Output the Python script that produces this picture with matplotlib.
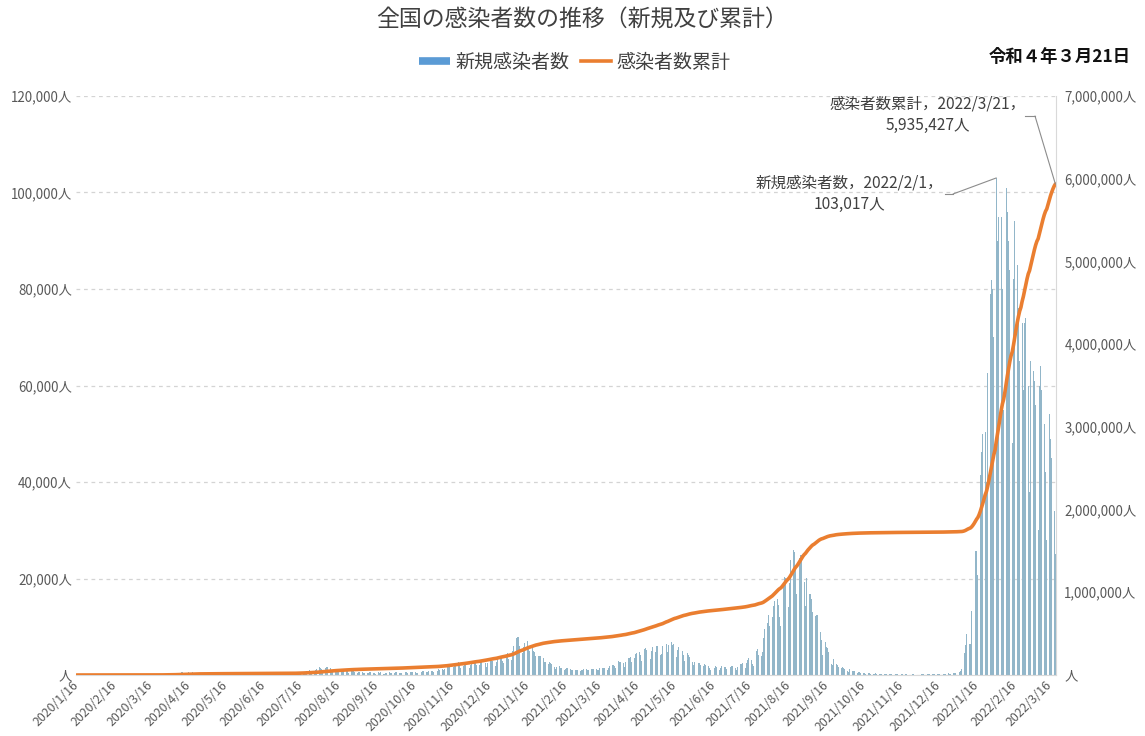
import numpy as np
import pandas as pd
import matplotlib
matplotlib.use('Agg')
import matplotlib.pyplot as plt
from matplotlib.lines import Line2D

plt.rcParams['font.family'] = ['Noto Sans CJK JP', 'DejaVu Sans']

# ---------------- data (daily new cases) ----------------
start_date = '2020-01-16'
new_2020_01 = [1,0,0,0,0,0,0,0,1,1,0,1,2,0,3,3]
new_2020_02 = [1,0,0,0,0,0,0,0,0,0,0,1,3,8,5,6,10,3,5,7,7,12,0,10,14,12,14,21,14]
new_2020_03 = [15,12,14,34,33,59,47,34,33,54,52,56,62,41,64,15,44,39,36,53,40,43,38,39,65,98,112,200,173,87,225]
new_2020_04 = [266,235,351,368,383,255,351,516,580,720,718,507,391,455,482,585,556,583,569,373,358,383,441,436,349,203,233,191,172,203]
new_2020_05 = [200,203,183,131,125,88,91,89,111,62,39,59,102,82,69,55,26,25,35,39,28,36,29,10,21,15,26,30,33,49,35]
new_2020_06 = [40,29,42,36,55,32,45,33,36,35,43,53,45,48,71,44,40,34,35,70,64,47,40,56,55,96,104,119,89,61]
new_2020_07 = [122,142,200,273,253,199,187,223,376,435,394,407,272,322,445,609,582,659,513,409,794,818,976,780,850,845,599,979,1264,1300,1580]
new_2020_08 = [1537,1332,971,1226,1354,1586,1605,1539,1443,828,717,985,1156,1205,1064,797,621,1000,1073,1183,1029,860,745,515,733,867,901,843,699,471,445]
new_2020_09 = [620,590,620,565,512,414,268,512,504,650,626,555,460,342,269,461,539,470,526,370,298,281,319,447,431,546,432,311,501,515]
new_2020_10 = [597,563,577,399,320,440,487,620,627,519,422,338,575,702,700,616,620,435,401,562,585,602,751,750,482,527,708,733,815,794,860]
new_2020_11 = [613,493,1053,893,1154,1105,1325,1162,952,1277,1546,1660,1710,1736,1437,949,1698,2201,2388,2424,2596,2168,1520,1228,1942,2504,2501,2684,2068,1433]
new_2020_12 = [2030,2434,2518,2427,2509,2027,1507,2099,2810,2971,2791,3041,2386,1680,2407,3211,3033,2843,2990,2519,1808,2667,3271,3741,3820,3877,2937,2395,3604,3852,4520]
new_2021_01 = [3256,3059,3158,4934,6001,6052,7570,7882,7790,6094,4877,4529,5874,6605,7133,7014,5759,4925,5320,5654,5046,4717,3990,3097,3858,3964,3973,3522,3428,2765,2763]
new_2021_02 = [1782,2323,2631,2575,2373,1807,1591,1223,1555,1696,1884,1363,1361,1144,958,1305,1525,1383,1284,1247,1138,933,773,1071,1135,1098,996,880]
new_2021_03 = [1000,1035,1306,1288,1186,1065,1063,1132,1316,1222,1303,1350,1312,1029,1070,1548,1576,1446,1501,1479,1122,1051,1515,1914,1907,2039,2128,1784,1550,2085,2843]
new_2021_04 = [2600,2772,2746,2467,1578,2652,3442,3453,3446,3697,2779,2113,3452,4310,4533,4555,4802,4090,2923,4314,5286,5510,5115,5031,4606,3314,4877,5775,4089,4670]
new_2021_05 = [6051,5990,4427,4129,4313,6052,7057,7244,6474,4799,6226,7116,6867,6270,6419,5232,3658,5230,5804,5609,5023,4883,4122,2814,4065,4520,4167,3698,3813,2650,2126]
new_2021_06 = [2698,2995,2858,2589,2549,2118,1429,1952,2267,2044,1918,1943,1385,1035,1426,1742,1551,1765,1599,1307,1024,1414,1814,1841,1639,1637,1332,1186,1575,1745]
new_2021_07 = [1838,1801,1836,1352,1010,1670,2190,2230,2256,2481,2152,1502,2385,3190,3434,3416,3098,2327,1861,3765,5028,5396,4222,3574,3882,4692,7627,9576,10687,10788,12340]
new_2021_08 = [10167,8386,12017,14212,15263,15747,15753,14472,12068,10164,15788,18889,20365,20151,17800,14001,19000,23917,25146,25866,25492,22229,16792,21570,24300,24957,24900,22753,19301,14234,20005]
new_2021_09 = [20028,16769,16767,15787,13008,8322,12134,12396,12419,11044,8887,7242,4172,6113,6806,5805,5560,4726,3733,2212,2011,3240,3588,2223,2119,1580,939,1542,1622,1444]
new_2021_10 = [1239,1095,893,618,1146,1127,795,809,747,612,374,623,605,509,508,428,429,227,380,352,326,287,256,266,150,319,305,278,253,221,152]
new_2021_11 = [84,228,170,199,177,191,162,106,187,187,170,180,144,91,78,132,164,134,110,110,50,102,82,94,130,114,130,92,68,90]
new_2021_12 = [158,115,124,142,110,85,117,142,167,152,147,161,104,144,179,167,195,183,157,138,245,259,277,380,299,245,204,388,486,500,554]
new_2022_01 = [456,533,782,1265,2638,4474,6214,8476,8249,6438,6384,13244,18861,21893,25743,25631,20669,32197,41485,46199,49854,54576,50454,40000,62612,71633,78930,81825,80000,70000,57000]
new_2022_02 = [103017,90000,95000,96000,95000,80000,55000,85000,101000,96000,90000,84000,70000,48000,82000,94000,89000,85000,76000,65000,45000,73000,59000,73000,74000,66726,60000,38000]
new_2022_03 = [65000,66000,63000,61000,56000,45000,30000,60000,64000,59000,55000,52000,42000,28000,54000,54000,49000,45000,40000,34000,25000]

new_cases = (new_2020_01 + new_2020_02 + new_2020_03 + new_2020_04 + new_2020_05 + new_2020_06 +
             new_2020_07 + new_2020_08 + new_2020_09 + new_2020_10 + new_2020_11 + new_2020_12 +
             new_2021_01 + new_2021_02 + new_2021_03 + new_2021_04 + new_2021_05 + new_2021_06 +
             new_2021_07 + new_2021_08 + new_2021_09 + new_2021_10 + new_2021_11 + new_2021_12 +
             new_2022_01 + new_2022_02 + new_2022_03)

tick_labels = ['2020/1/16','2020/2/16','2020/3/16','2020/4/16','2020/5/16','2020/6/16','2020/7/16',
               '2020/8/16','2020/9/16','2020/10/16','2020/11/16','2020/12/16','2021/1/16','2021/2/16',
               '2021/3/16','2021/4/16','2021/5/16','2021/6/16','2021/7/16','2021/8/16','2021/9/16',
               '2021/10/16','2021/11/16','2021/12/16','2022/1/16','2022/2/16','2022/3/16']
left_ticks = [0, 20000, 40000, 60000, 80000, 100000, 120000]
left_labels = ['人', '20,000人', '40,000人', '60,000人', '80,000人', '100,000人', '120,000人']
right_ticks = [0, 1000000, 2000000, 3000000, 4000000, 5000000, 6000000, 7000000]
right_labels = ['人', '1,000,000人', '2,000,000人', '3,000,000人', '4,000,000人',
                '5,000,000人', '6,000,000人', '7,000,000人']

title = '全国の感染者数の推移（新規及び累計）'
series_names = ['新規感染者数', '感染者数累計']
date_text = '令和４年３月21日'
peak_date, peak_value = '2022-02-01', 103017

# ---------------- derived ----------------
dates = pd.date_range(start_date, periods=len(new_cases), freq='D')
cumulative = np.cumsum(new_cases)

W, H = 1145, 736
fig = plt.figure(figsize=(W / 100, H / 100), dpi=100)
ax = fig.add_axes([76 / W, 1 - 675 / H, (1056 - 76) / W, (675 - 96) / H])
ax2 = ax.twinx()

bar_color = '#92b6c9'
ax.bar(dates, new_cases, width=0.6, color=bar_color, linewidth=0, zorder=2)
ax.set_ylim(0, 120000)
ax.set_xlim(dates[0] - pd.Timedelta(hours=12), dates[-1] + pd.Timedelta(hours=12))

line_color = '#ea7e30'
ax2.plot(dates, cumulative, color=line_color, lw=2.6, solid_capstyle='round', zorder=3)
ax2.set_ylim(0, 7000000)

tick_dates = pd.to_datetime(tick_labels, format='%Y/%m/%d')
ax.set_xticks(tick_dates)
ax.set_xticklabels(tick_labels, rotation=45, ha='right', va='center', rotation_mode='anchor',
                   fontsize=8.9, color='#595959')
ax.tick_params(axis='x', length=0, pad=6)

ax.set_yticks(left_ticks)
ax.set_yticklabels(left_labels, fontsize=9.6, color='#595959')
ax.tick_params(axis='y', length=0, pad=3)
ax2.set_yticks(right_ticks)
ax2.set_yticklabels(right_labels, fontsize=9.6, color='#595959')
ax2.tick_params(axis='y', length=0, pad=6)

ax.yaxis.grid(True, linestyle=(0, (3, 3)), color='#d4d4d4', lw=0.9, zorder=0)
ax.set_axisbelow(True)
for s in ['top', 'left']:
    ax.spines[s].set_visible(False)
    ax2.spines[s].set_visible(False)
ax.spines['right'].set_visible(False)
ax2.spines['bottom'].set_visible(False)
ax.spines['bottom'].set_color('#d9d9d9')
ax2.spines['right'].set_color('#d9d9d9')

fig.text(582 / W, 1 - 20 / H, title, ha='center', va='center', fontsize=16.5, color='#404040')
fig.text(1131 / W, 1 - 57 / H, date_text, ha='right', va='center', fontsize=12.5, color='#111111',
         weight='bold')

handles = [Line2D([], [], color='#5b9bd5', lw=5.5, solid_capstyle='butt'),
           Line2D([], [], color=line_color, lw=2.6)]
fig.legend(handles, series_names, loc='center', bbox_to_anchor=(575 / W, 1 - 62 / H), ncol=2,
           frameon=False, fontsize=13.7, handlelength=1.6, handletextpad=0.3, columnspacing=0.6,
           labelcolor='#404040')

# annotations
end_date = dates[-1]
fig.text(928 / W, 1 - 115 / H, f'{series_names[1]}，{end_date.year}/{end_date.month}/{end_date.day}，\n{cumulative[-1]:,}人',
         ha='center', va='center', fontsize=11.2, color='#404040', linespacing=1.35)
fig.add_artist(Line2D([1025 / W, 1035 / W], [1 - 116 / H, 1 - 116 / H], color='#8c8c8c', lw=0.8))
ax2.annotate('', xy=(end_date, cumulative[-1]), xytext=(1035, H - 116), textcoords='figure pixels',
             arrowprops=dict(arrowstyle='-', color='#8c8c8c', lw=0.8, shrinkA=0, shrinkB=0))

pdate = pd.Timestamp(peak_date)
fig.text(849 / W, 1 - 194 / H, f'{series_names[0]}，{pdate.year}/{pdate.month}/{pdate.day}，\n{peak_value:,}人',
         ha='center', va='center', fontsize=11.2, color='#404040', linespacing=1.35)
fig.add_artist(Line2D([945 / W, 953 / W], [1 - 194 / H, 1 - 194 / H], color='#8c8c8c', lw=0.8))
ax.annotate('', xy=(pdate, peak_value), xytext=(953, H - 194), textcoords='figure pixels',
            arrowprops=dict(arrowstyle='-', color='#8c8c8c', lw=0.8, shrinkA=0, shrinkB=0))

fig.savefig('out.png', dpi=100, facecolor='white')
